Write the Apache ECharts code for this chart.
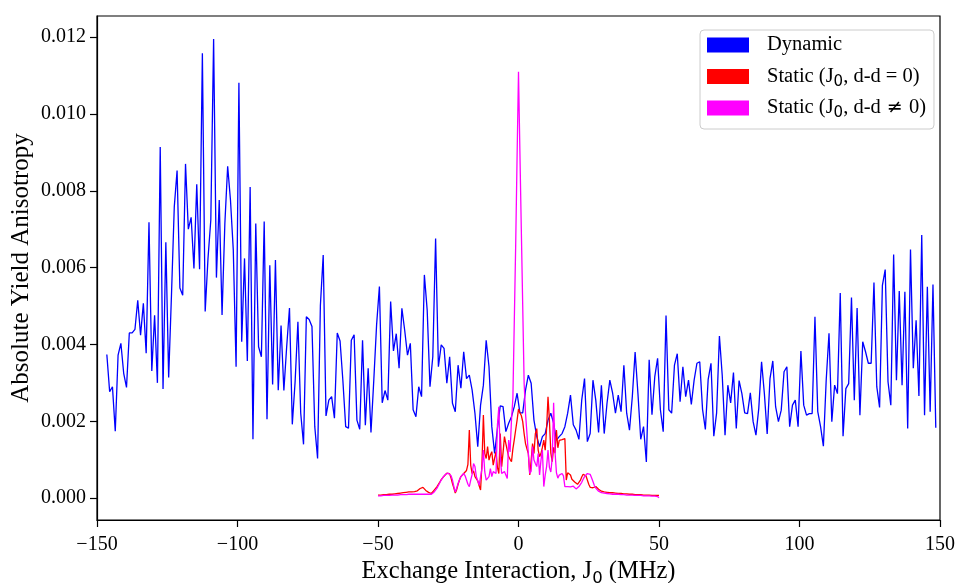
<!DOCTYPE html>
<html>
<head>
<meta charset="utf-8">
<script src="https://cdn.jsdelivr.net/npm/echarts@6/dist/echarts.min.js"></script>
<style>
  html, body { margin: 0; padding: 0; background: #ffffff; }
  #chart { width: 959px; height: 583px; }
</style>
</head>
<body>
<div id="chart"></div>
<script>
// Dynamic model: absolute yield anisotropy, sampled every 1 MHz from -146.5 MHz
const dynamicStart = -146.5;
const dynamicStep = 1;
const dynamicValues = [
  0.00374,0.00277,0.0029,0.00174,0.00372,0.00403,0.00325,0.00288,0.0043,0.0043,
  0.00439,0.00515,0.00424,0.00507,0.00377,0.00718,0.00331,0.00476,0.003,0.00914,
  0.00284,0.00666,0.00314,0.00528,0.00758,0.00853,0.00547,0.00528,0.0087,0.007,
  0.00731,0.00598,0.00817,0.00596,0.01158,0.00486,0.00624,0.00724,0.01195,0.00574,
  0.00776,0.00477,0.00715,0.00864,0.00776,0.00646,0.00342,0.01081,0.00407,0.00624,
  0.00357,
  0.0081,0.00153,0.00715,0.00394,0.00368,0.0072,0.00205,0.00606,0.00296,0.0062,
  0.00281,0.00449,0.0028,0.00394,0.00495,0.00192,0.00303,0.00459,0.00221,0.0014,
  0.00472,0.00465,0.00447,0.00186,0.00103,0.00502,0.00633,0.00214,0.00255,0.00264,
  0.00208,0.0043,0.00409,0.00306,0.00186,0.00182,0.00411,0.00425,0.00203,0.00179,
  0.00411,0.0019,0.00338,0.00171,0.00307,0.00451,0.00551,0.00248,0.0028,0.00255,
  0.00512,0.00383,0.00428,0.00338,
  0.00494,0.00437,0.00372,0.00403,0.0023,0.00212,0.0029,0.00264,0.00581,0.0049,
  0.0029,0.00368,0.00676,0.00342,0.00399,0.0039,0.00299,0.00368,0.00247,0.00225,
  0.00346,0.00286,0.00381,0.00311,0.0032,0.00281,0.00221,0.00134,0.00242,0.00294,
  0.00411,0.00342,0.00186,0.00116,0.00181,0.0024,0.00238,0.00173,0.00195,0.00212,
  0.00238,0.00273,0.00222,0.00222,0.00281,0.0032,0.00299,0.00203,0.0016,0.00134,
  0.0016,0.00168,0.00203,
  0.00221,0.00195,0.00151,0.0016,0.00168,0.00186,0.00221,0.00268,0.00191,0.00177,
  0.00153,0.00255,0.00311,0.00147,0.00168,0.00307,0.00255,0.00171,0.00294,0.00168,
  0.00247,0.00307,0.00273,0.00221,0.00268,0.00225,0.00346,0.00221,0.00177,0.00264,
  0.0038,0.00273,0.00153,0.00186,0.00094,0.0036,0.00217,0.00316,0.00364,0.0023,
  0.00173,0.00475,0.0023,0.00221,0.00346,0.00376,0.00251,0.00342,0.00264,0.00307,
  0.00244,0.00307,0.00351,
  0.00355,0.00231,0.00179,0.00309,0.00351,0.00161,0.00222,0.00422,0.0032,0.00164,
  0.00294,0.00248,0.00327,0.00181,0.00306,0.00272,0.00222,0.0022,0.00274,0.00199,
  0.00164,0.00233,0.00355,0.00272,0.00167,0.00311,0.00357,0.00238,0.00199,0.00229,
  0.00329,0.00342,0.00186,0.00242,0.00255,0.00186,0.00383,0.00242,0.00216,0.0022,
  0.0022,0.00472,0.00225,0.00186,0.00135,0.00307,0.00429,0.00199,0.00294,0.00272,
  0.00534,0.00161,0.00285,0.00298,0.00522,0.00255,0.00495,0.00216,0.00407,0.00381,
  0.00351,0.00351,0.00561,0.0029,0.00236,0.00554,0.00595,0.00303,0.00242,0.00634,
  0.00307,0.00539,0.00294,0.00537,0.00181,0.00647,0.00338,0.00463,0.00266,0.00685,
  0.00216,0.0055,0.00225,0.00556,0.00183
];

// Static models: sampled every 0.5 MHz from -50 to 50 MHz (one row = 5 MHz)
const staticStart = -50;
const staticStep = 0.5;
const staticZeroDD = [
  0.00008,0.00008,0.00008,0.00008,0.00009,0.00009,0.00009,0.00009,0.0001,0.0001,
  0.0001,0.00011,0.00011,0.00011,0.00012,0.00012,0.00013,0.00013,0.00014,0.00014,
  0.00015,0.00015,0.00016,0.00016,0.00016,0.00017,0.00017,0.00018,0.00019,0.00021,
  0.00025,0.0003,0.00028,0.00023,0.0002,0.00017,0.00015,0.00013,0.00012,0.00015,
  0.00021,0.00026,0.0003,0.00036,0.00042,0.00048,0.00053,0.00057,0.00061,0.00065,
  0.00069,0.00063,0.00052,0.00038,0.00026,0.00013,0.00022,0.00036,0.00047,0.00056,
  0.00061,0.00064,0.0006,0.00072,0.00088,0.00177,0.00085,0.00064,0.00071,0.00056,
  0.0006,0.00045,0.00032,0.00021,0.0009,0.00216,0.00116,0.00103,0.00134,0.00099,
  0.00112,0.00121,0.00086,0.00104,0.00121,0.0008,0.00064,0.00168,0.00082,0.00118,
  0.0016,0.00142,0.00124,0.00108,0.00101,0.00095,0.00128,0.00152,0.00178,0.00203,
  0.00232,0.00222,0.00215,0.00199,0.00168,0.00142,0.00128,0.00116,0.0006,0.00098,
  0.00142,0.00116,0.00168,0.00181,0.00125,0.00108,0.00116,0.00132,0.00151,0.00125,
  0.00182,0.00264,0.00203,0.00118,0.00095,0.00132,0.00117,0.00177,0.00131,0.0015,
  0.00155,0.00152,0.00156,0.00155,0.00047,0.00066,0.00068,0.0006,0.00049,0.00045,
  0.00042,0.00038,0.00036,0.00038,0.00046,0.00055,0.00062,0.00064,0.00058,0.00047,
  0.00036,0.00028,0.00025,0.00027,0.0003,0.0003,0.00027,0.00023,0.0002,0.00018,
  0.00017,0.00016,0.00016,0.00015,0.00015,0.00014,0.00014,0.00014,0.00013,0.00013,
  0.00013,0.00012,0.00012,0.00012,0.00011,0.00011,0.00011,0.00011,0.0001,0.0001,
  0.0001,0.0001,0.0001,0.00009,0.00009,0.00009,0.00009,0.00009,0.00008,0.00008,
  0.00008,0.00008,0.00008,0.00008,0.00007,0.00007,0.00007,0.00007,0.00007,0.00007,
  0.00007
];
const staticNonzeroDD = [
  0.00006,0.00006,0.00006,0.00006,0.00007,0.00007,0.00007,0.00007,0.00007,0.00008,
  0.00008,0.00008,0.00008,0.00008,0.00008,0.00009,0.00009,0.00009,0.00009,0.00009,
  0.00009,0.0001,0.0001,0.0001,0.0001,0.0001,0.0001,0.0001,0.0001,0.0001,
  0.0001,0.0001,0.0001,0.0001,0.0001,0.0001,0.0001,0.0001,0.0001,0.00012,
  0.00016,0.00021,0.00026,0.00033,0.0004,0.00047,0.00053,0.00058,0.00062,0.00064,
  0.00065,0.00064,0.00058,0.00047,0.0003,0.00016,0.00026,0.00038,0.00048,0.00056,
  0.00061,0.00064,0.00058,0.00047,0.00036,0.0003,0.00047,0.00062,0.0009,0.00082,
  0.00056,0.0006,0.00034,0.00055,0.00077,0.00125,0.00068,0.00047,0.00052,0.00056,
  0.00077,0.00056,0.00069,0.00068,0.00064,0.0019,0.00238,0.0011,0.00064,0.00066,
  0.00069,0.0006,0.00051,0.00151,0.0012,0.00203,0.0026,0.0046,0.0066,0.0089,
  0.0111,0.009,0.007,0.005,0.003,0.0022,0.00168,0.00116,0.00064,0.0007,
  0.00134,0.00099,0.0009,0.00082,0.00116,0.0006,0.00099,0.00125,0.0003,0.0006,
  0.00082,0.00125,0.0008,0.00068,0.00104,0.00248,0.0012,0.00066,0.00052,0.0006,
  0.00062,0.00064,0.00058,0.0003,0.00026,0.0003,0.00027,0.00029,0.00033,0.00031,
  0.00028,0.00024,0.00026,0.0003,0.00034,0.00041,0.00049,0.00056,0.00061,0.00064,
  0.00065,0.00062,0.00053,0.00043,0.00033,0.00026,0.00021,0.00018,0.00016,0.00014,
  0.00013,0.00013,0.00012,0.00012,0.00011,0.00011,0.00011,0.0001,0.0001,0.0001,
  0.0001,0.0001,0.00009,0.00009,0.00009,0.00009,0.00009,0.00008,0.00008,0.00008,
  0.00008,0.00008,0.00008,0.00007,0.00007,0.00007,0.00007,0.00007,0.00007,0.00006,
  0.00006,0.00006,0.00006,0.00006,0.00006,0.00005,0.00005,0.00005,0.00005,0.00004,
  0.00001
];

// Axis ticks
const xTickValues = [-150, -100, -50, 0, 50, 100, 150];
const xTickLabels = ['\u2212150', '\u2212100', '\u221250', '0', '50', '100', '150'];
const yTickValues = [0, 0.002, 0.004, 0.006, 0.008, 0.010, 0.012];
const yTickLabels = ['0.000', '0.002', '0.004', '0.006', '0.008', '0.010', '0.012'];

// Legend entries
const seriesNames = ['Dynamic', 'Static (J0, d-d = 0)', 'Static (J0, d-d \u2260 0)'];
const legendRich = [
  'Dynamic',
  'Static (J{sub|0}, d-d = 0)',
  'Static (J{sub|0}, d-d {ne|\u2260} 0)'
];

function toPairs(start, step, values) {
  return values.map((v, i) => [start + i * step, v]);
}

const serif = 'Liberation Serif';

const chart = echarts.init(document.getElementById('chart'), null, { renderer: 'canvas' });

chart.setOption({
  animation: false,
  backgroundColor: '#ffffff',
  textStyle: { fontFamily: serif },
  grid: {
    left: 97, right: 19, top: 16, bottom: 63,
    outerBoundsMode: 'none',
    containLabel: false,
    show: true, borderColor: '#000000', borderWidth: 1.2,
    backgroundColor: 'transparent'
  },
  legend: {
    show: true,
    orient: 'vertical',
    left: 700,
    top: 30,
    icon: 'rect',
    itemWidth: 42,
    itemHeight: 15,
    itemGap: 5.5,
    padding: [2, 8, 8, 7],
    borderColor: '#cccccc',
    borderWidth: 1,
    borderRadius: 4,
    backgroundColor: 'rgba(255,255,255,0.8)',
    selectedMode: false,
    data: seriesNames,
    formatter: function (name) {
      return legendRich[seriesNames.indexOf(name)];
    },
    textStyle: {
      fontFamily: serif,
      fontSize: 20.5,
      color: '#000000',
      lineHeight: 26,
      padding: [0, 0, 0, 13],
      rich: {
        sub: {
          fontFamily: 'DejaVu Sans',
          fontSize: 15,
          lineHeight: 15,
          verticalAlign: 'bottom',
          padding: [11, 0, 0, 0]
        },
        ne: {
          fontFamily: 'DejaVu Sans',
          fontSize: 19,
          lineHeight: 26,
          padding: [0, 1, 0, 1]
        }
      }
    }
  },
  xAxis: {
    type: 'value',
    min: -150,
    max: 150,
    name: 'Exchange Interaction, J{sub|0} (MHz)',
    nameLocation: 'middle',
    nameGap: 37,
    nameMoveOverlap: false,
    nameTextStyle: {
      fontFamily: serif,
      fontSize: 24.5,
      color: '#000000',
      lineHeight: 30,
      rich: {
        sub: {
          fontFamily: 'DejaVu Sans',
          fontSize: 16.5,
          lineHeight: 16,
          verticalAlign: 'bottom',
          padding: [14, 0, 0, 0]
        }
      }
    },
    axisLine: { show: true, onZero: false, lineStyle: { color: '#000000', width: 1.2 } },
    axisTick: {
      show: true, inside: false, length: 7,
      customValues: xTickValues,
      lineStyle: { color: '#000000', width: 1.2 }
    },
    axisLabel: {
      show: true, margin: 15,
      customValues: xTickValues,
      fontFamily: serif, fontSize: 20, color: '#000000',
      formatter: function (v) {
        const i = xTickValues.indexOf(v);
        return i >= 0 ? xTickLabels[i] : '';
      }
    },
    splitLine: { show: false }
  },
  yAxis: {
    type: 'value',
    min: -0.00057,
    max: 0.01255,
    name: 'Absolute Yield Anisotropy',
    nameLocation: 'middle',
    nameGap: 63,
    nameMoveOverlap: false,
    nameTextStyle: { fontFamily: serif, fontSize: 25, color: '#000000' },
    axisLine: { show: true, onZero: false, lineStyle: { color: '#000000', width: 1.2 } },
    axisTick: {
      show: true, inside: false, length: 7,
      customValues: yTickValues,
      lineStyle: { color: '#000000', width: 1.2 }
    },
    axisLabel: {
      show: true, margin: 11,
      customValues: yTickValues,
      fontFamily: serif, fontSize: 20, color: '#000000',
      formatter: function (v) {
        let best = 0;
        yTickValues.forEach((t, i) => { if (Math.abs(t - v) < Math.abs(yTickValues[best] - v)) best = i; });
        return yTickLabels[best];
      }
    },
    splitLine: { show: false }
  },
  series: [
    {
      name: seriesNames[0],
      type: 'line',
      data: toPairs(dynamicStart, dynamicStep, dynamicValues),
      showSymbol: false,
      symbol: 'none',
      lineStyle: { color: '#0000ff', width: 1.3 },
      itemStyle: { color: '#0000ff' },
      z: 2
    },
    {
      name: seriesNames[1],
      type: 'line',
      data: toPairs(staticStart, staticStep, staticZeroDD),
      showSymbol: false,
      symbol: 'none',
      lineStyle: { color: '#ff0000', width: 1.3 },
      itemStyle: { color: '#ff0000' },
      z: 3
    },
    {
      name: seriesNames[2],
      type: 'line',
      data: toPairs(staticStart, staticStep, staticNonzeroDD),
      showSymbol: false,
      symbol: 'none',
      lineStyle: { color: '#ff00ff', width: 1.3 },
      itemStyle: { color: '#ff00ff' },
      z: 4
    }
  ]
});
</script>
</body>
</html>
